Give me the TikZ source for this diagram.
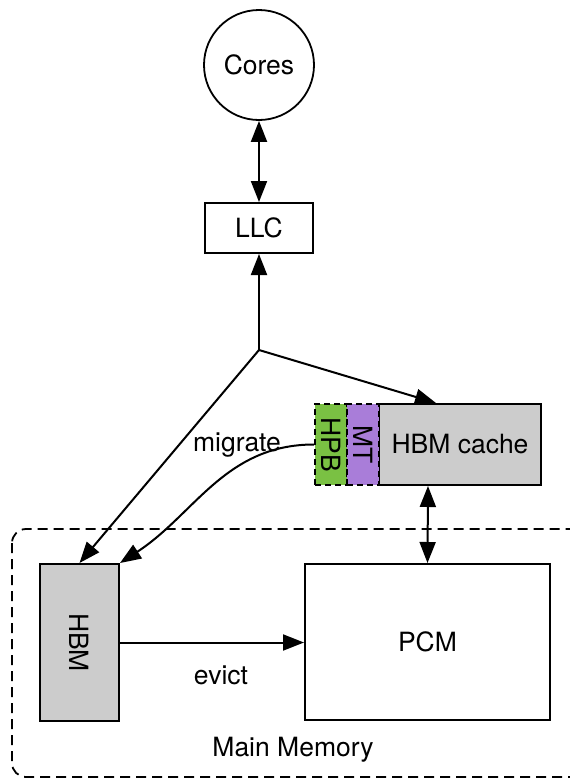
\documentclass[tikz,border=0pt]{standalone}
\usepackage{fontspec}
\setmainfont{TeX Gyre Heros}
\usetikzlibrary{arrows.meta}

\definecolor{memgray}{RGB}{204,204,204}
\definecolor{hpbgreen}{RGB}{122,193,67}
\definecolor{mtpurple}{RGB}{169,125,217}

\begin{document}
\begin{tikzpicture}[x=1pt,y=-1pt,
  every node/.style={font=\fontsize{26.5}{30}\selectfont},
  box/.style={draw, line width=2pt, inner sep=0pt},
  tag/.style={box, dash pattern=on 6pt off 4pt, minimum width=32pt, minimum height=81pt},
  link/.style={line width=2pt, -{Triangle[length=21pt,width=16pt]}},
  twoway/.style={line width=2pt, {Triangle[length=21pt,width=16pt]}-{Triangle[length=21pt,width=16pt]}},
  plain/.style={inner sep=0pt}
]
\useasboundingbox (0,0) rectangle (570,780);

% main memory frame, running past the right edge
\draw[line width=1.8pt, dash pattern=on 10pt off 6pt, rounded corners=14pt]
  (12,529) rectangle (590,777);

% processor side
\node[circle, draw, line width=1.8pt, minimum size=110pt, inner sep=0pt] (cores) at (259,65) {Cores};
\node[box, minimum width=108pt, minimum height=50pt] (llc) at (259,228) {LLC};
\coordinate (j) at (259,350);

% HBM cache with its HPB and MT tags
\node[box, fill=memgray, minimum width=162pt, minimum height=81pt] (cache) at (460,444.5) {HBM cache};
\node[tag, fill=hpbgreen] (hpb) at (331,444.5) {\rotatebox{-90}{HPB}};
\node[tag, fill=mtpurple] (mt) at (363,444.5) {\rotatebox{-90}{MT}};

% memories
\node[box, fill=memgray, minimum width=79pt, minimum height=157pt] (hbm) at (79.5,642.5) {\rotatebox{-90}{HBM}};
\node[box, minimum width=245pt, minimum height=156pt] (pcm) at (427.5,642) {PCM};

% connectors
\draw[twoway] (cores.south) -- (llc.north);
\draw[link] (j) -- (llc.south);
\draw[link] (j) -- ([xshift=58pt]cache.north west);
\draw[link] (j) -- (hbm.north);
\draw[link] (hpb.west) to[out=180, in=33] (hbm.north east);
\draw[twoway] ([xshift=-32pt]cache.south) -- (pcm.north);
\draw[link] (hbm.east) -- (hbm.east -| pcm.west);

% labels
\node[plain] (migrate) at (237,445) {migrate};
\node[plain] (evict) at (221,675) {evict};
\node[plain] (mainmem) at (293,750) {Main Memory};
\end{tikzpicture}
\end{document}
